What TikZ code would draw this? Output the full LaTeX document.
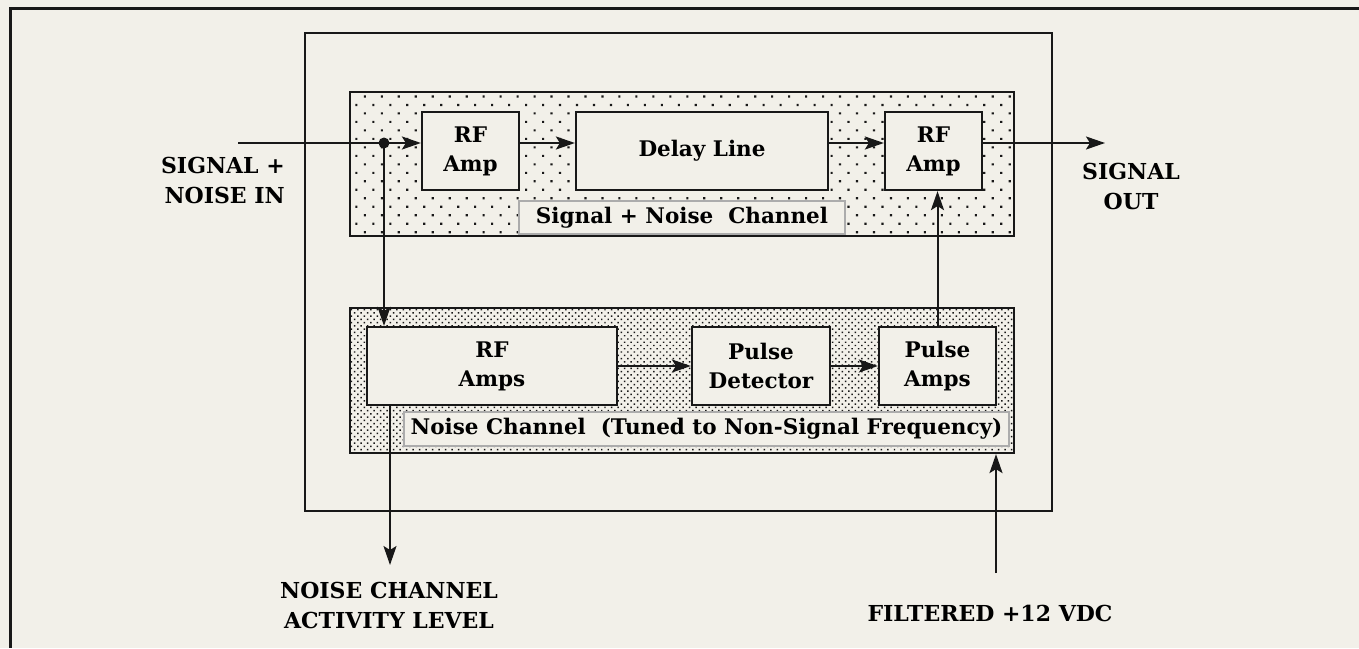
\documentclass[tikz,border=0pt]{standalone}
\usepackage{fontspec}
\setmainfont{DejaVu Serif}
\usetikzlibrary{arrows.meta,patterns.meta}
\definecolor{paper}{RGB}{242,240,233}
\definecolor{ink}{RGB}{24,24,24}
\begin{document}
\begin{tikzpicture}[x=1pt,y=-1pt,
  box/.style={draw=ink, line width=2.2pt, fill=paper, inner sep=0pt, align=center,
    font=\bfseries\fontsize{21.5}{29}\selectfont},
  region/.style={draw=ink, line width=2.2pt, inner sep=0pt, preaction={fill=paper}},
  sparse/.style={pattern={Dots[distance=12pt,angle=45,radius=1.5pt]}, pattern color=ink},
  dense/.style={pattern={Dots[distance=4.6pt,angle=45,radius=1.05pt]}, pattern color=ink},
  lbl/.style={draw=gray!65, line width=1.4pt, fill=paper, inner sep=0pt,
    font=\bfseries\fontsize{21.5}{29}\selectfont},
  capl/.style={font=\bfseries\fontsize{22}{30}\selectfont, align=center, inner sep=0pt},
  conn/.style={draw=ink, line width=2pt},
  arr/.style={conn, -{Stealth[length=19pt,width=13pt,inset=4pt]}},
]
\fill[paper] (0,0) rectangle (1359,648);
\useasboundingbox (0,0) rectangle (1359,648);
% outer page frame
\draw[ink, line width=3pt] (1359,8) -- (10,8) -- (10,648);

% enclosure and channel regions
\node[draw=ink, line width=2.2pt, inner sep=0pt, minimum width=747pt, minimum height=478pt] (enc) at (678.5,272) {};
\node[region, sparse, minimum width=664pt, minimum height=144pt] (sigreg) at (682,164) {};
\node[region, dense, minimum width=664pt, minimum height=145pt] (noisereg) at (682,380.5) {};

% coordinates
\coordinate (inL) at (238,143);
\coordinate (j) at (384,143);
\coordinate (sout) at (1105,143);
\coordinate (ncout) at (390,565);
\coordinate (vdc) at (996,573);

% blocks
\node[box, minimum width=97pt, minimum height=78pt] (rf1) at (470.5,151) {RF\\Amp};
\node[box, minimum width=252pt, minimum height=78pt] (delay) at (702,151) {Delay Line};
\node[box, minimum width=97pt, minimum height=78pt] (rf2) at (933.5,151) {RF\\Amp};
\node[lbl, minimum width=326pt, minimum height=33pt] (snl) at (682,217.5) {Signal + Noise\ \ Channel};

\node[box, minimum width=250pt, minimum height=78pt] (rfa) at (492,366) {RF\\Amps};
\node[box, minimum width=138pt, minimum height=78pt] (pd) at (761,366) {Pulse\\Detector};
\node[box, minimum width=117pt, minimum height=78pt] (pa) at (937.5,366) {Pulse\\Amps};
\node[lbl, minimum width=605pt, minimum height=34pt] (ncl) at (706.5,429) {Noise Channel\ \ (Tuned to Non-Signal Frequency)};

% connectors
\draw[conn] (inL) -- (j);
\draw[arr] (j) -- (rf1.west |- j);
\draw[arr] (j) -- (j |- rfa.north);
\fill[ink] (j) circle (5.5pt);
\draw[arr] (rf1.east |- j) -- (delay.west |- j);
\draw[arr] (delay.east |- j) -- (rf2.west |- j);
\draw[arr] (rf2.east |- j) -- (sout);
\draw[arr] (rfa.east) -- (pd.west);
\draw[arr] (pd.east) -- (pa.west);
\draw[arr] (pa.north) -- (pa.north |- rf2.south);
\draw[arr] (ncout |- rfa.south) -- (ncout);
\draw[arr] (vdc) -- (vdc |- noisereg.south);

% labels
\node[capl, anchor=east, align=right] (sinl) at (285,180) {SIGNAL +\\NOISE IN};
\node[capl] (soutl) at (1131,186) {SIGNAL\\OUT};
\node[capl] (ncal) at (389,605) {NOISE CHANNEL\\ACTIVITY LEVEL};
\node[capl] (vdcl) at (990,613) {FILTERED +12 VDC};
\end{tikzpicture}
\end{document}
